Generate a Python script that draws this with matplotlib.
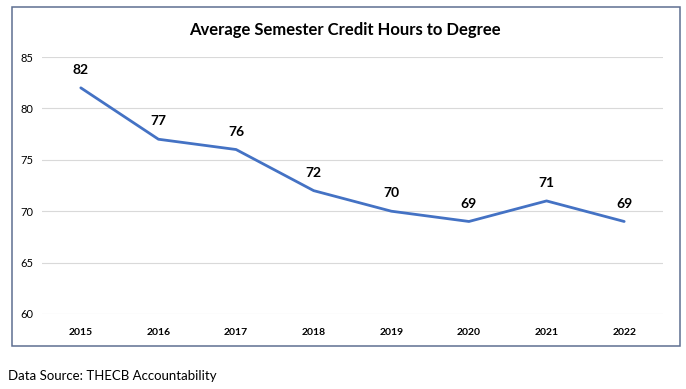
import matplotlib
matplotlib.use("Agg")
import matplotlib.pyplot as plt
from matplotlib.patches import Rectangle

years = ["2015", "2016", "2017", "2018", "2019", "2020", "2021", "2022"]
hours = [82, 77, 76, 72, 70, 69, 71, 69]
yticks = [60, 65, 70, 75, 80, 85]

plt.rcParams['font.family'] = ['Lato', 'DejaVu Sans']

W, H = 686, 389
fig = plt.figure(figsize=(W/100, H/100), dpi=100)
ax = fig.add_axes([42/W, 75/H, (663-42)/W, (314-57)/H])

x = list(range(len(years)))
ax.plot(x, hours, color="#4472C4", lw=2.0, solid_capstyle='round')
for xi, v in zip(x, hours):
    ax.annotate(str(v), (xi, v), xytext=(0, 8.5), textcoords='offset points',
                ha='center', va='bottom', fontsize=10, fontweight='bold', color='#000000')

ax.set_xlim(-0.5, len(years) - 0.5)
ax.set_ylim(60, 85)
ax.set_yticks(yticks)
ax.set_yticklabels([str(t) for t in yticks], fontsize=8)
ax.set_xticks(x)
ax.set_xticklabels(years, fontsize=7.5, fontweight='bold')
ax.grid(axis='y', color='#D9D9D9', lw=0.8)
ax.set_axisbelow(True)
for s in ax.spines.values():
    s.set_visible(False)
ax.tick_params(axis='both', length=0)
ax.tick_params(axis='x', pad=10)
ax.tick_params(axis='y', pad=6)

fig.text(345/W, 1 - 30/H, "Average Semester Credit Hours to Degree", ha='center', va='center',
         fontsize=12, fontweight='bold')

fig.patches.append(Rectangle((12/W, 1 - 346/H), (680-12)/W, (346-7)/H, transform=fig.transFigure,
                             fill=False, edgecolor='#5E6F91', lw=1.1))

fig.text(8/W, 1 - 376/H, "Data Source: THECB Accountability", ha='left', va='center', fontsize=9.5)

fig.savefig("out.png", dpi=100, facecolor='white')
